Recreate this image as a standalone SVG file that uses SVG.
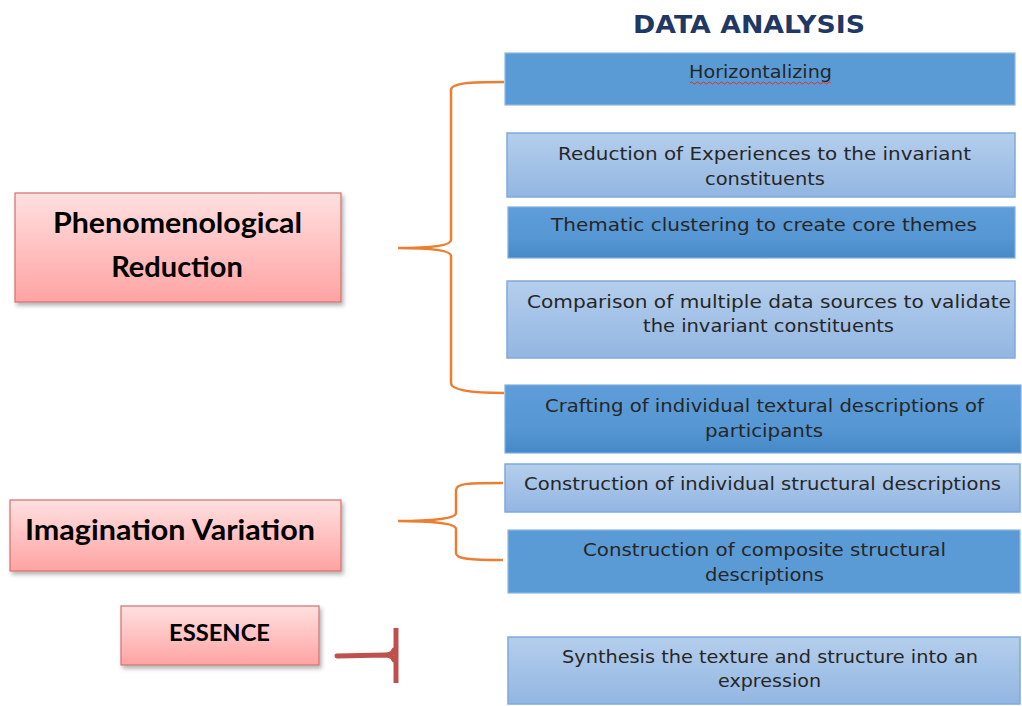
<svg xmlns="http://www.w3.org/2000/svg" width="1022" height="706" viewBox="0 0 1022 706">
<defs>
<linearGradient id="pink" x1="0" y1="0" x2="0" y2="1">
<stop offset="0" stop-color="#FFE0E0"/>
<stop offset="1" stop-color="#FFA3A3"/>
</linearGradient>
<linearGradient id="light" x1="0" y1="0" x2="0" y2="1">
<stop offset="0" stop-color="#B5CEEC"/>
<stop offset="1" stop-color="#92B6E2"/>
</linearGradient>
<linearGradient id="dark" x1="0" y1="0" x2="0" y2="1">
<stop offset="0" stop-color="#5E9DD8"/>
<stop offset="0.6" stop-color="#5697D4"/>
<stop offset="1" stop-color="#4788C8"/>
</linearGradient>
<filter id="sh" x="-5%" y="-10%" width="115%" height="130%">
<feDropShadow dx="2" dy="3" stdDeviation="2" flood-color="#000" flood-opacity="0.3"/>
</filter>
</defs>
<style>
.pk{fill:url(#pink);stroke:#D2706E;stroke-width:1.2;filter:url(#sh)}
.lt{fill:url(#light);stroke:#7FA9DC;stroke-width:1.5}
.dk{fill:url(#dark);stroke:#7FAFE0;stroke-width:1.2}
.sl{fill:#5B9BD5;stroke:#8DB8E6;stroke-width:1.2}
.bt{font-family:"DejaVu Sans",Verdana,sans-serif;font-size:17.5px;fill:#262626;text-anchor:middle}
.lb{font-family:Lato,"Liberation Sans",sans-serif;font-weight:bold;fill:#000;text-anchor:middle}
.br{fill:none;stroke:#ED7D31;stroke-width:2.5}
</style>
<text x="749" y="33" font-family="'DejaVu Sans',Verdana,sans-serif" font-weight="bold" font-size="25" fill="#1F3864" text-anchor="middle" textLength="232" lengthAdjust="spacingAndGlyphs">DATA ANALYSIS</text>

<g id="connectors">
<path class="br" d="M504,82 C470,82 451,83 451,90 L451,240 C451,246 430,248 398,248 C430,248 451,250 451,256 L451,383 C451,390 470,393 504,393"/>
<path class="br" d="M503,483 C470,483 456,483 456,490 L456,513 C456,519 430,521 398,521 C430,521 456,523 456,529 L456,553 C456,559 470,560 503,560"/>
<path d="M337,656 L385,655 C390,655 393,653 394,650 M385,655 C390,655 393,657 394,660" stroke="#C0504D" stroke-width="5" stroke-linecap="round" fill="none"/>
<path d="M396,628 L396,683" stroke="#C0504D" stroke-width="5" fill="none"/>
</g>

<g id="n1"><rect class="sl" x="505" y="53" width="510" height="52"/>
<text class="bt" x="760.5" y="78" textLength="143" lengthAdjust="spacingAndGlyphs">Horizontalizing</text>
<path d="M690,83 q1.5,-2 3,0 t3,0 t3,0 t3,0 t3,0 t3,0 t3,0 t3,0 t3,0 t3,0 t3,0 t3,0 t3,0 t3,0 t3,0 t3,0 t3,0 t3,0 t3,0 t3,0 t3,0 t3,0 t3,0 t3,0 t3,0 t3,0 t3,0 t3,0 t3,0 t3,0 t3,0 t3,0 t3,0 t3,0 t3,0 t3,0 t3,0 t3,0 t3,0 t3,0 t3,0 t3,0 t3,0 t3,0 t3,0 t3,0 t3,0" fill="none" stroke="#E03030" stroke-width="1"/>
</g>
<g id="n2"><rect class="lt" x="507" y="133" width="508" height="64"/>
<text class="bt" x="764.5" y="160" textLength="413" lengthAdjust="spacingAndGlyphs">Reduction of Experiences to the invariant</text>
<text class="bt" x="765" y="185" textLength="120" lengthAdjust="spacingAndGlyphs">constituents</text></g>
<g id="n3"><rect class="dk" x="508" y="207" width="507" height="51"/>
<text class="bt" x="764" y="231" textLength="426" lengthAdjust="spacingAndGlyphs">Thematic clustering to create core themes</text></g>
<g id="n4"><rect class="lt" x="507" y="281" width="508" height="77"/>
<text class="bt" x="769" y="308" textLength="484" lengthAdjust="spacingAndGlyphs">Comparison of multiple data sources to validate</text>
<text class="bt" x="768.5" y="332" textLength="251" lengthAdjust="spacingAndGlyphs">the invariant constituents</text></g>
<g id="n5"><rect class="dk" x="505" y="385" width="516" height="68"/>
<text class="bt" x="764.5" y="412" textLength="439" lengthAdjust="spacingAndGlyphs">Crafting of individual textural descriptions of</text>
<text class="bt" x="764" y="437" textLength="118" lengthAdjust="spacingAndGlyphs">participants</text></g>
<g id="n6"><rect class="lt" x="505" y="464" width="515" height="48"/>
<text class="bt" x="762.5" y="490" textLength="477" lengthAdjust="spacingAndGlyphs">Construction of individual structural descriptions</text></g>
<g id="n7"><rect class="sl" x="508" y="530" width="512" height="63"/>
<text class="bt" x="764.5" y="556" textLength="363" lengthAdjust="spacingAndGlyphs">Construction of composite structural</text>
<text class="bt" x="764.5" y="581" textLength="119" lengthAdjust="spacingAndGlyphs">descriptions</text></g>
<g id="n8"><rect class="lt" x="508" y="637" width="512" height="67"/>
<text class="bt" x="770" y="663" textLength="416" lengthAdjust="spacingAndGlyphs">Synthesis the texture and structure into an</text>
<text class="bt" x="769.5" y="687" textLength="103" lengthAdjust="spacingAndGlyphs">expression</text></g>

<g id="p1"><rect class="pk" x="15" y="193" width="326" height="109"/>
<text class="lb" x="177.5" y="233" font-size="29" textLength="249" lengthAdjust="spacingAndGlyphs">Phenomenological</text>
<text class="lb" x="177" y="277" font-size="29">Reduction</text></g>
<g id="p2"><rect class="pk" x="10" y="500" width="331" height="71"/>
<text class="lb" x="170" y="540" font-size="29" textLength="290" lengthAdjust="spacingAndGlyphs">Imagination Variation</text></g>
<g id="p3"><rect class="pk" x="121" y="606" width="198" height="59"/>
<text class="lb" x="219.5" y="641" font-size="23" textLength="101" lengthAdjust="spacingAndGlyphs">ESSENCE</text></g>
</svg>
